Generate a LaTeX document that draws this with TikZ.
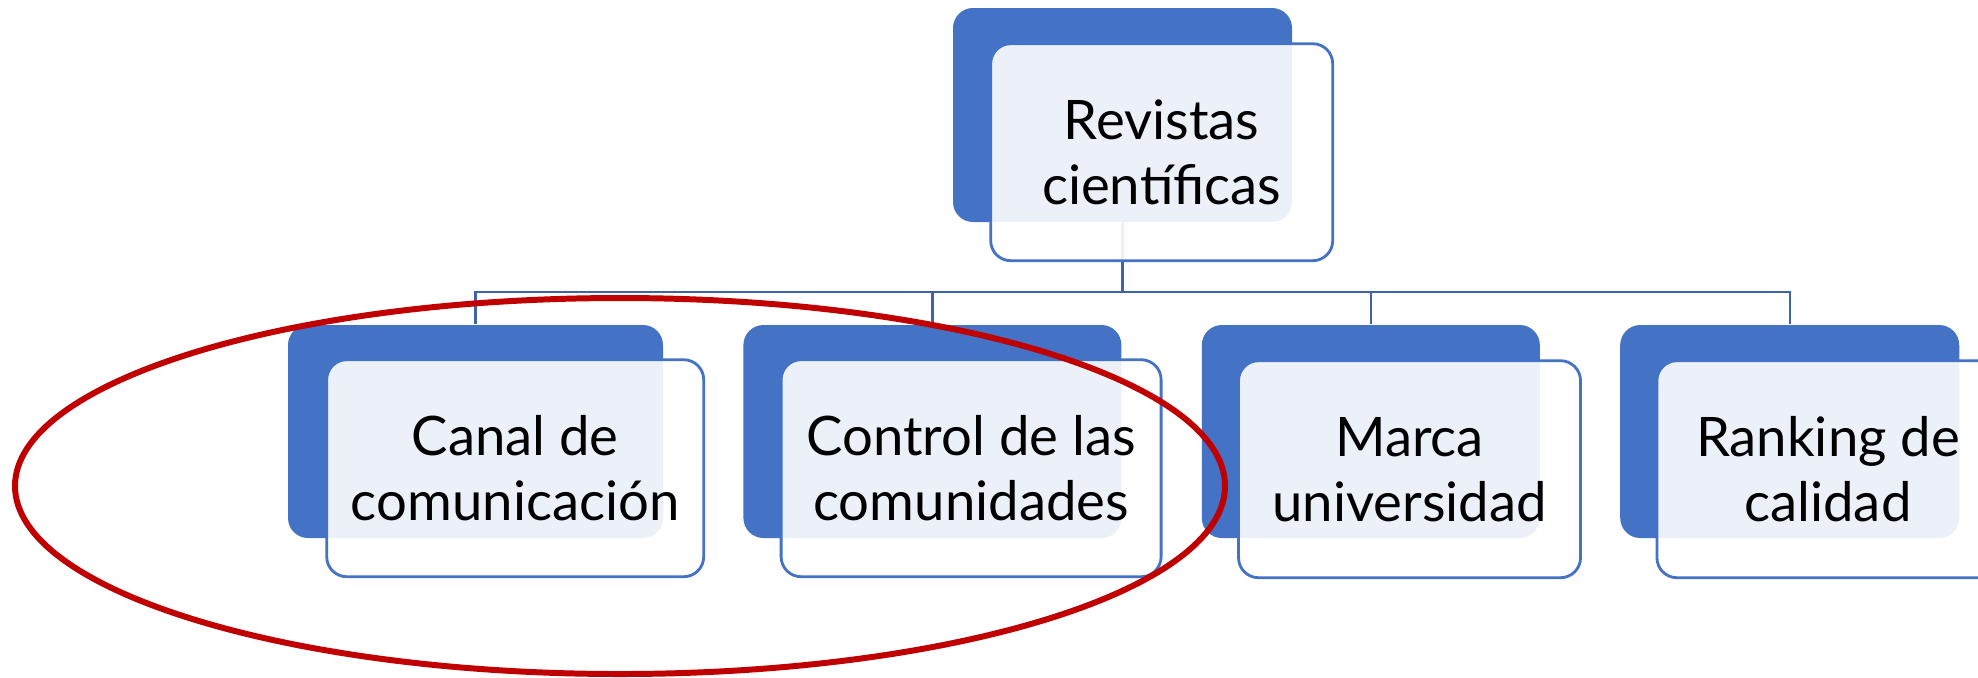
\documentclass[tikz,border=0pt]{standalone}
\usepackage{fontspec}
\setmainfont{Lato}
\usetikzlibrary{positioning}
\definecolor{accent}{RGB}{68,114,196}
\definecolor{linkblue}{RGB}{64,98,168}
\definecolor{ringred}{RGB}{192,0,0}
\tikzstyle{back} = [rectangle, rounded corners=0.2cm, minimum height=2.13cm, fill=accent]
\tikzstyle{front} = [rectangle, rounded corners=0.2cm, minimum height=2.17cm, draw=accent, line width=0.8pt, fill=white, fill opacity=0.9, text opacity=1, text=black, align=center, anchor=north west, font=\fontsize{15.5}{18.5}\selectfont]
\tikzstyle{link} = [linkblue, line width=0.7pt]
\tikzstyle{ring} = [ringred, line width=1.7pt]

\begin{document}
\begin{tikzpicture}
  \useasboundingbox (0,0) rectangle (19.78,-6.77);
  \node (top) [back, minimum width=3.39cm, minimum height=2.14cm] at (11.225,-1.15) {};
  \node (canal) [back, minimum width=3.75cm] at (4.755,-4.315) {};
  \node (control) [back, minimum width=3.78cm, right=0.79cm of canal] {};
  \node (marca) [back, minimum width=3.38cm, right=0.79cm of control] {};
  \node (ranking) [back, minimum width=3.39cm, right=0.79cm of marca] {};
  \coordinate (bus) at (0,-2.92);
  \foreach \kid in {canal,control,marca,ranking}
    \draw [link] (top.south) -- (top.south |- bus) -| (\kid.north);
  %front boxes
  \node (topT) [front, minimum width=3.42cm] at ([xshift=0.37cm, yshift=-0.35cm]top.north west) {Revistas\\científicas};
  \node (canalT) [front, minimum width=3.77cm] at ([xshift=0.38cm, yshift=-0.34cm]canal.north west) {Canal de\\comunicación};
  \node (controlT) [front, minimum width=3.80cm] at ([xshift=0.37cm, yshift=-0.34cm]control.north west) {Control de las\\comunidades};
  \node (marcaT) [front, minimum width=3.42cm] at ([xshift=0.36cm, yshift=-0.35cm]marca.north west) {Marca\\universidad};
  \node (rankingT) [front, minimum width=3.42cm] at ([xshift=0.36cm, yshift=-0.35cm]ranking.north west) {Ranking de\\calidad};
  \draw [ring] (6.2,-4.86) ellipse (6.05cm and 1.88cm);
\end{tikzpicture}
\end{document}
